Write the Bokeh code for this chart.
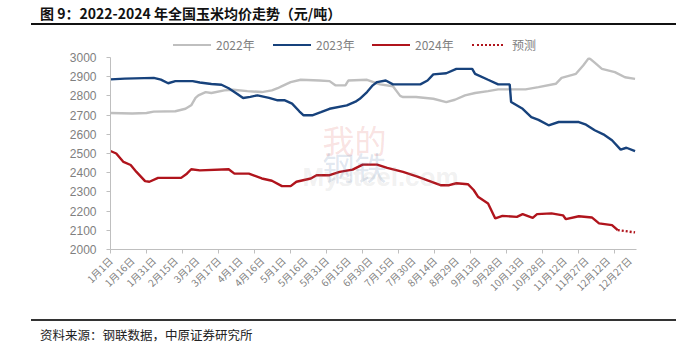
import numpy as np
from bokeh.plotting import figure
from bokeh.layouts import column
from bokeh.models import Range1d, FixedTicker, Label, Div
from bokeh.embed import file_html
from bokeh.resources import INLINE

# ---------------- data ----------------
tick_days = list(range(0, 361, 15))
tick_labels = ["1月1日", "1月16日", "1月31日", "2月15日", "3月2日", "3月17日", "4月1日",
               "4月16日", "5月1日", "5月16日", "5月31日", "6月15日", "6月30日", "7月15日",
               "7月30日", "8月14日", "8月29日", "9月13日", "9月28日", "10月13日", "10月28日",
               "11月12日", "11月27日", "12月12日", "12月27日"]
minor_days = list(range(0, 351, 25))
y_ticks = list(range(2000, 3001, 100))

days_2022 = [0, 15, 25, 30, 45, 52, 56, 59, 61, 66, 70, 79, 85, 95, 105, 112, 116, 119, 125, 132,
             145, 152, 156, 163, 165, 178, 187, 196, 201, 203, 212, 224, 233, 239, 246, 253, 262,
             269, 288, 297, 309, 313, 323, 328, 332, 336, 341, 350, 357, 364]
vals_2022 = [2711, 2708, 2711, 2718, 2720, 2733, 2751, 2790, 2803, 2820, 2815, 2829, 2832, 2825,
             2820, 2829, 2840, 2851, 2872, 2884, 2880, 2877, 2855, 2855, 2880, 2884, 2860, 2850,
             2800, 2794, 2794, 2785, 2768, 2780, 2803, 2815, 2825, 2834, 2834, 2846, 2863, 2894,
             2915, 2958, 2998, 2973, 2941, 2924, 2897, 2889]

days_2023 = [0, 10, 30, 35, 40, 45, 57, 62, 70, 77, 82, 88, 92, 97, 102, 110, 116, 121, 126, 131,
             134, 140, 146, 152, 164, 170, 173, 178, 182, 185, 191, 196, 215, 220, 224, 233, 240,
             251, 253, 262, 269, 277, 278, 286, 292, 297, 304, 311, 325, 330, 336, 342, 348, 354,
             358, 364]
vals_2023 = [2886, 2890, 2894, 2885, 2866, 2877, 2877, 2870, 2862, 2858, 2840, 2810, 2789, 2795,
             2803, 2790, 2777, 2777, 2760, 2720, 2699, 2699, 2715, 2733, 2751, 2770, 2785, 2820,
             2855, 2872, 2880, 2860, 2860, 2880, 2912, 2918, 2941, 2941, 2915, 2884, 2860, 2860,
             2768, 2733, 2690, 2675, 2647, 2664, 2664, 2650, 2621, 2600, 2569, 2520, 2530, 2512]

days_2024 = [0, 4, 9, 14, 18, 24, 27, 33, 49, 53, 56, 62, 82, 86, 96, 105, 112, 119, 125, 129,
             139, 143, 152, 159, 168, 175, 185, 192, 203, 213, 220, 229, 235, 240, 248, 252, 255,
             262, 267, 272, 282, 286, 293, 296, 306, 314, 316, 325, 334, 339, 348, 352]
vals_2024 = [2513, 2500, 2456, 2440, 2404, 2356, 2353, 2373, 2373, 2395, 2418, 2412, 2418, 2395,
             2395, 2370, 2358, 2330, 2330, 2353, 2370, 2387, 2387, 2404, 2416, 2442, 2442, 2425,
             2404, 2380, 2360, 2335, 2335, 2345, 2340, 2310, 2275, 2240, 2162, 2175, 2170, 2184,
             2165, 2184, 2188, 2178, 2158, 2173, 2167, 2136, 2127, 2101]

days_fc = [352, 364]
vals_fc = [2101, 2089]

series_names = ["2022年", "2023年", "2024年", "预测"]
series_colors = ["#BFBFBF", "#17427C", "#B0141C", "#B0141C"]
series_css_style = ["solid", "solid", "solid", "dotted"]

title_text = "图 9：2022-2024 年全国玉米均价走势（元/吨）"
source_text = "资料来源：钢联数据，中原证券研究所"

GRAY_TXT = "#7f7f7f"
AX = "#bfbfbf"
CJK = "'Noto Sans CJK SC', 'Noto Sans', sans-serif"

# ---------------- header (title, rule, legend) ----------------
H_HEAD = 52
legend_x = [173, 273, 372, 472]
legend_w = [38, 38, 38, 31]
legend_html = ""
for name, col, sty, lx, lw in zip(series_names, series_colors, series_css_style, legend_x, legend_w):
    legend_html += (f'<div style="position:absolute;left:{lx}px;top:43.8px;width:{lw}px;height:0;'
                    f'border-top:2.5px {sty} {col};"></div>')
    tx = lx + 38 + 5 if name != "预测" else lx + 40
    legend_html += (f'<div style="position:absolute;left:{tx}px;top:37px;line-height:16px;'
                    f'font-size:12px;color:{GRAY_TXT};white-space:nowrap;">{name}</div>')

head_html = (f'<div style="position:relative;width:700px;height:{H_HEAD}px;font-family:{CJK};'
             f'background:white;overflow:hidden;">'
             f'<div style="position:absolute;left:40px;top:4px;line-height:18px;font-size:14px;'
             f'font-weight:bold;color:#111;white-space:nowrap;">{title_text}</div>'
             f'<div style="position:absolute;left:30.5px;top:23px;width:645px;height:2px;'
             f'background:#111;"></div>'
             f'{legend_html}</div>')
head = Div(text=head_html, width=700, height=H_HEAD, margin=0)

# ---------------- main chart ----------------
H_MAIN = 266
p = figure(width=700, height=H_MAIN, output_backend="svg", toolbar_location=None,
           x_range=Range1d(0, 365), y_range=Range1d(2000, 3000),
           min_border_left=110, min_border_right=64, min_border_top=5, min_border_bottom=69,
           margin=0)
p.outline_line_color = None
p.grid.visible = False
p.background_fill_color = "white"
p.border_fill_color = "white"

xa = p.xaxis[0]
xa.ticker = FixedTicker(ticks=tick_days, minor_ticks=minor_days)
xa.major_label_overrides = {d: l for d, l in zip(tick_days, tick_labels)}
xa.major_label_orientation = np.pi / 4
xa.major_tick_line_color = None
xa.major_tick_out = 0
xa.major_tick_in = 0
xa.minor_tick_line_color = AX
xa.minor_tick_out = 4
xa.minor_tick_in = 0
xa.axis_line_color = AX
xa.major_label_text_font = "Noto Sans CJK SC"
xa.major_label_text_font_size = "10px"
xa.major_label_text_color = GRAY_TXT
xa.major_label_standoff = 5

ya = p.yaxis[0]
ya.ticker = FixedTicker(ticks=y_ticks)
ya.axis_line_color = AX
ya.major_tick_line_color = AX
ya.major_tick_out = 4
ya.major_tick_in = 0
ya.minor_tick_line_color = None
ya.major_label_text_font = "Liberation Sans"
ya.major_label_text_font_size = "12px"
ya.major_label_text_color = GRAY_TXT
ya.major_label_standoff = 10

# watermark
p.add_layout(Label(x=212, y=111, x_units="screen", y_units="screen", text="我的",
                   text_font="Noto Sans CJK SC", text_font_size="32px", text_color="#d9534f",
                   text_alpha=0.18, text_baseline="middle"))
p.add_layout(Label(x=212, y=84, x_units="screen", y_units="screen", text="钢铁",
                   text_font="Noto Sans CJK SC", text_font_size="32px", text_color="#4a6fa5",
                   text_alpha=0.18, text_baseline="middle"))
p.add_layout(Label(x=192, y=73, x_units="screen", y_units="screen", text="Mysteel.com",
                   text_font="Liberation Sans", text_font_style="bold", text_font_size="26px",
                   text_color="#9a9a9a", text_alpha=0.15, text_baseline="middle"))

p.line(days_2022, vals_2022, line_color=series_colors[0], line_width=2.4)
p.line(days_2023, vals_2023, line_color=series_colors[1], line_width=2.4)
p.line(days_2024, vals_2024, line_color=series_colors[2], line_width=2.4)
p.line(days_fc, vals_fc, line_color=series_colors[3], line_width=2.4, line_dash="2 2")

# ---------------- footer (rule, source) ----------------
H_FOOT = 353 - H_HEAD - H_MAIN
foot_html = (f'<div style="position:relative;width:700px;height:{H_FOOT}px;font-family:{CJK};'
             f'background:white;overflow:hidden;">'
             f'<div style="position:absolute;left:30.5px;top:1px;width:645px;height:2px;'
             f'background:#333;"></div>'
             f'<div style="position:absolute;left:40px;top:9px;line-height:16px;font-size:12.5px;'
             f'color:#222;white-space:nowrap;">{source_text}</div></div>')
foot = Div(text=foot_html, width=700, height=H_FOOT, margin=0)

layout = column(head, p, foot, spacing=0)
open("out.html", "w").write(file_html(layout, INLINE))
